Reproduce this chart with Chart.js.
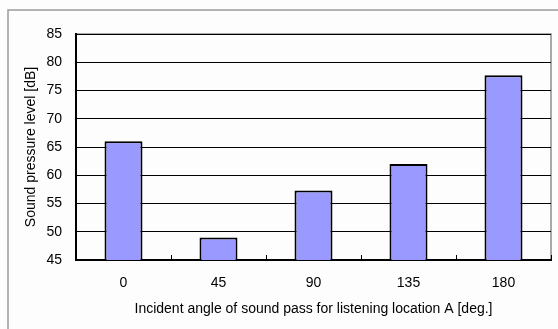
<!DOCTYPE html>
<html>
<head>
<meta charset="utf-8">
<script src="https://cdn.jsdelivr.net/npm/chart.js@4"></script>
<style>
  html, body { margin: 0; padding: 0; background: #fdfdfd; }
  #wrap { width: 558px; height: 329px; position: relative; }
</style>
</head>
<body>
<div id="wrap"><canvas id="chart" width="558" height="329"></canvas></div>
<script>
const angles = ["0", "45", "90", "135", "180"];
const levels = [66, 49, 57.3, 62, 77.7];
const yTicks = [45, 50, 55, 60, 65, 70, 75, 80, 85];

// frame lines round the picture + grey plot-area border
const framePlugin = {
  id: 'frame',
  beforeDraw(chart) {
    const ctx = chart.ctx;
    const a = chart.chartArea;
    ctx.save();
    ctx.strokeStyle = '#9a9a9a';
    ctx.lineWidth = 1.5;
    ctx.beginPath();
    ctx.moveTo(8, 329);
    ctx.lineTo(8, 10);
    ctx.lineTo(558, 10);
    ctx.stroke();
    ctx.strokeStyle = '#8c8c8c';
    ctx.lineWidth = 1.5;
    ctx.strokeRect(a.left, a.top, a.right - a.left, a.bottom - a.top);
    ctx.restore();
  }
};

const font = { family: "'Liberation Sans', Arial, sans-serif", size: 14 };

new Chart(document.getElementById('chart'), {
  type: 'bar',
  data: {
    labels: angles,
    datasets: [{
      data: levels,
      backgroundColor: '#9999ff',
      borderColor: '#000000',
      borderWidth: 2,
      categoryPercentage: 0.4,
      barPercentage: 1.0
    }]
  },
  options: {
    responsive: false,
    animation: false,
    layout: { padding: { top: 34, right: 7, bottom: 0, left: 0 } },
    plugins: {
      legend: { display: false },
      tooltip: { enabled: false }
    },
    scales: {
      x: {
        grid: {
          drawOnChartArea: false,
          color: '#000000',
          tickLength: -5,
          lineWidth: 1
        },
        border: { color: '#000000', width: 2 },
        ticks: { color: '#000000', font: font, padding: 20 },
        title: {
          display: true,
          text: 'Incident angle of sound pass for listening location A [deg.]',
          color: '#000000',
          font: font,
          padding: { top: 0, bottom: 11 }
        },
        afterFit(scale) { scale.height = 69; }
      },
      y: {
        min: 45,
        max: 85,
        afterBuildTicks(scale) { scale.ticks = yTicks.map(v => ({ value: v })); },
        grid: { color: '#000000', lineWidth: 1, drawTicks: false },
        border: { color: '#000000', width: 2 },
        ticks: { color: '#000000', font: font, padding: 14 },
        title: {
          display: true,
          text: 'Sound pressure level [dB]',
          color: '#000000',
          font: font,
          padding: { top: 23, bottom: 0 }
        },
        afterFit(scale) { scale.width = 76; }
      }
    }
  },
  plugins: [framePlugin]
});
</script>
</body>
</html>
